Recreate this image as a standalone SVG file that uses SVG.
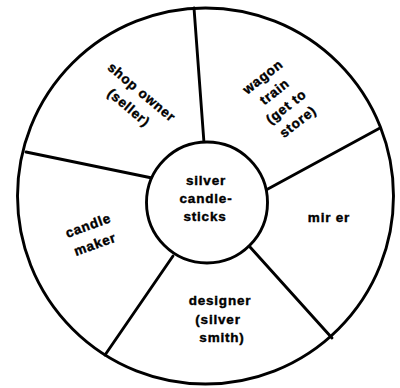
<svg xmlns="http://www.w3.org/2000/svg" width="400" height="388" viewBox="0 0 400 388">
<style>
.ln{stroke:#000;stroke-width:2.9;fill:none;stroke-linecap:round}
.t{font-family:"Liberation Sans",Arial,sans-serif;font-weight:bold;font-size:13.5px;letter-spacing:0.8px;fill:#000;stroke:#000;stroke-width:0.4;text-anchor:middle}
</style>
<rect width="400" height="388" fill="#fff"/>
<g id="wheel">
<circle cx="205.5" cy="196" r="188" class="ln"/>
</g>
<g id="connectors">
<line class="ln" x1="194" y1="8" x2="204" y2="143"/>
<line class="ln" x1="26" y1="152" x2="152" y2="178"/>
<line class="ln" x1="380" y1="128" x2="266" y2="190"/>
<line class="ln" x1="250" y1="247" x2="332" y2="338"/>
<line class="ln" x1="173" y1="256" x2="105" y2="355"/>
</g>
<g id="center">
<circle cx="207" cy="202.5" r="60.5" class="ln" style="fill:#fff"/>
<text class="t" x="206" y="185">silver</text>
<text class="t" x="206" y="203">candle-</text>
<text class="t" x="205" y="221">sticks</text>
</g>
<g id="shop-owner" transform="translate(135.5,99.5) rotate(40)">
<text class="t" x="0" y="-5">shop owner</text>
<text class="t" x="0" y="15">(seller)</text>
</g>
<g id="wagon-train" transform="translate(281,100) rotate(-38)">
<text class="t" x="0" y="-25">wagon</text>
<text class="t" x="0" y="-6">train</text>
<text class="t" x="0" y="13">(get to</text>
<text class="t" x="0" y="32">store)</text>
</g>
<g id="miner">
<text class="t" x="329" y="222">mir er</text>
</g>
<g id="designer">
<text class="t" x="220" y="305">designer</text>
<text class="t" x="218" y="324">(silver</text>
<text class="t" x="222" y="342">smith)</text>
</g>
<g id="candle-maker" transform="translate(91.5,234.5) rotate(-20)">
<text class="t" x="0" y="-5">candle</text>
<text class="t" x="0" y="15">maker</text>
</g>
</svg>
